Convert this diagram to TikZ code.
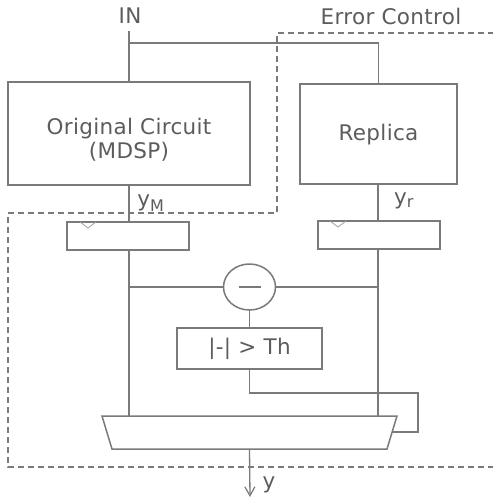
\documentclass[tikz,border=0pt]{standalone}
\usepackage{fontspec}
\setmainfont{DejaVu Sans}[LetterSpace=1.5]
\usetikzlibrary{arrows.meta}
\definecolor{ln}{HTML}{7A7A7A}
\definecolor{tx}{HTML}{5C5C5C}
\begin{document}
\begin{tikzpicture}[x=1pt,y=-1pt,
  every node/.style={text=tx,font=\fontsize{21.5}{25}\selectfont,inner sep=0pt,outer sep=0pt},
  bigbox/.style={draw=ln,line width=2pt,rectangle},
  regbox/.style={draw=ln,line width=1.5pt,rectangle},
  wire/.style={draw=ln,line width=1.3pt},
  dashline/.style={draw=ln,line width=1.3pt,dash pattern=on 6pt off 4pt},
  clk/.style={draw=ln!70,line width=0.8pt}]
\useasboundingbox (0,0) rectangle (493,499);
\fill[white] (0,0) rectangle (493,499);
% labels
\node (in) at (130,16) {IN};
\node (ec) at (391,16) {Error Control};
% boxes
\node[bigbox,minimum width=242pt,minimum height=103pt] (orig) at (129,133.5) {};
\node[align=center,font=\fontsize{21.5}{24}\selectfont] (origtxt) at (129,139.5) {Original Circuit\\(MDSP)};
\node[bigbox,minimum width=157pt,minimum height=100pt] (rep) at (378.5,134) {};
\node (reptxt) at (378.5,135) {Replica};
\node (ym) at (151,203) {y\textsubscript{\fontsize{16}{16}\selectfont M}};
\node (yr) at (404,201) {y\textsubscript{\fontsize{16}{16}\selectfont r}};
\node[regbox,minimum width=122pt,minimum height=28pt] (reg1) at (128,236) {};
\node[regbox,minimum width=122pt,minimum height=28pt] (reg2) at (379,235) {};
\node[draw=ln,line width=1.5pt,circle,minimum size=46pt,xscale=1.13] (sub) at (249.5,287) {};
\node[regbox,minimum width=145pt,minimum height=41pt] (th) at (249.5,348.5) {|-| > Th};
\node[minimum width=295pt,minimum height=33pt] (mux) at (249.5,432.5) {};
\node (y) at (269,485) {y};
\draw[draw=ln,line width=1.5pt] (mux.north west) -- (mux.north east)
  -- ([xshift=-10pt]mux.south east) -- ([xshift=10pt]mux.south west) -- cycle;
% clock marks
\draw[clk] (80,222) -- (88,228) -- (96,222);
\draw[clk] (330,221) -- (338,227) -- (346,221);
% minus sign
\draw[wire] (sub.center) ++(-11,0) -- ++(22,0);
% coordinates
\coordinate (instart) at (129,31);
\coordinate (split) at (129,43);
\coordinate (lv) at (129,287);
\coordinate (rv) at (378,287);
\coordinate (fb1) at (418,393);
\coordinate (fb2) at (418,432);
\coordinate (muxr) at (392,432);
\coordinate (out) at (250,497);
% wires
\draw[wire] (instart) -- (orig.north -| instart);
\draw[wire] (split) -| (rep.north);
\draw[wire] (orig.south -| instart) -- (reg1.north -| instart);
\draw[wire] (rep.south -| rv) -- (reg2.north -| rv);
\draw[wire] (reg1.south -| lv) -- (mux.north -| lv);
\draw[wire] (reg2.south -| rv) -- (mux.north -| rv);
\draw[wire] (lv) -- (sub.west);
\draw[wire] (sub.east) -- (rv);
\draw[wire] (sub.south) -- (th.north);
\draw[wire] (th.south) |- (fb1) -- (fb2) -- (muxr);
\draw[wire,-{Straight Barb[length=9pt,width=10pt,line width=1.2pt]}] (mux.south) -- (out);
% dashed error control region
\draw[dashline] (494,33) -- (277,33) -- (277,213) -- (8,213) -- (8,467) -- (494,467);
\end{tikzpicture}
\end{document}
